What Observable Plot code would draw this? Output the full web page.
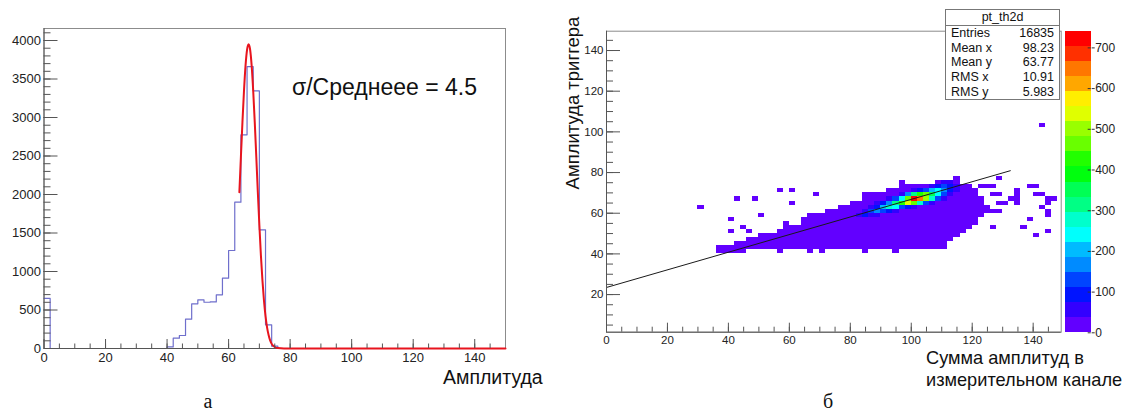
<!DOCTYPE html>
<html><head><meta charset="utf-8">
<script src="https://cdn.jsdelivr.net/npm/d3@7"></script>
<script src="https://cdn.jsdelivr.net/npm/@observablehq/plot@0.6"></script>
<style>
body{margin:0;background:#fff;}
#root{position:relative;width:1126px;height:414px;overflow:hidden;font-family:"Liberation Sans",Arial,sans-serif;color:#111;background:#fff;}
.abs{position:absolute;white-space:nowrap;line-height:1;}
.row{display:flex;justify-content:space-between;height:14.7px;line-height:14.7px;padding:0 5px 0 5px;}
</style></head><body>
<div id="root">
  <div id="left" class="abs" style="left:0;top:0"></div>
  <div id="right" class="abs" style="left:560px;top:0"></div>
  <div id="cbar" class="abs" style="left:1060px;top:0"></div>
  <div class="abs" style="left:292px;top:87px;font-size:23px;transform:translateY(-50%)">σ/Среднеее = 4.5</div>
  <div class="abs" style="left:443px;top:378px;font-size:19.5px;transform:translateY(-50%)">Амплитуда</div>
  <div class="abs" style="left:573px;top:103px;font-size:18.5px;transform:translate(-50%,-50%) rotate(-90deg)">Амплитуда триггера</div>
  <div class="abs" style="left:926px;top:358px;font-size:18.2px;transform:translateY(-50%)">Сумма амплитуд в</div>
  <div class="abs" style="left:926px;top:380px;font-size:18.2px;transform:translateY(-50%)">измерительном канале</div>
  <div class="abs" style="left:208px;top:401px;font-size:20px;font-family:'Liberation Serif','Times New Roman',serif;transform:translate(-50%,-50%)">а</div>
  <div class="abs" style="left:828px;top:401px;font-size:20px;font-family:'Liberation Serif','Times New Roman',serif;transform:translate(-50%,-50%)">б</div>
  <div id="stats" class="abs" style="left:945px;top:9px;width:113px;height:89px;border:1px solid #777;background:#fff;font-size:12.5px;"></div>
</div>
<script>
// ---------- Panel "а": amplitude histogram (bin width 2, range 0..150) ----------
const histBinWidth = 2;
const histCounts = [650,0,0,0,0,0,0,0,0,0, 0,0,0,0,0,0,0,0,0,0,
  20,134,169,381,580,632,601,605,697,913, 1273,1900,2775,3662,3346,1541,308,30,0,0,
  0,0,0,0,0,0,0,0,0,0, 0,0,0,0,0,0,0,0,0,0,
  0,0,0,0,0,0,0,0,0,0, 0,0,0,0,0];
const fitX = [63.5,64,64.5,65,65.5,66,66.5,67,67.5,68,68.5,69,69.5,70,70.5,71,71.5,72,72.5,73,73.5,74,75,76,78,150];
const fitY = [2030,2490,2940,3345,3670,3880,3950,3880,3670,3345,2940,2490,2030,1600,1210,885,620,420,275,175,105,60,20,5,0,0];
const xTicksA = [0,20,40,60,80,100,120,140];
const yTicksA = [0,500,1000,1500,2000,2500,3000,3500,4000];
const xDomainA = [0,150];
const yDomainA = [0,4156];

// ---------- Panel "б": 2D histogram pt_th2d (bins 2x2) ----------
const binB = 2;
const bodyX    = [36,38,40,42,44,46,48,50,52,54,56,58,60,62,64,66,68,70,72,74,76,78,80,82,84,86,88,90,92,94,96,98,100,102,104,106,108,110,112,114,116,118,120,122];
const bodyLow  = [40,40,40,40,40,42,42,42,42,42,40,42,42,42,42,40,42,40,42,42,42,42,42,42,40,42,42,42,42,40,42,42,42,42,42,42,42,42,46,48,50,52,54,58];
const bodyHigh = [44,44,44,46,46,48,48,50,50,50,52,56,54,54,58,60,60,60,62,62,64,64,66,66,70,70,70,70,72,72,76,74,74,74,74,74,76,76,76,78,74,74,72,68];
// dense core: one row per y bin, first x bin, then colour levels (0..19) of consecutive x bins
const coreRowY  = [58, 60, 62, 64, 66, 68, 70, 72, 74];
const coreRowX0 = [82, 84, 86, 88, 92, 96, 100, 106, 110];
const coreRowLevels = [
  [1,2,1,1],
  [1,3,4,3,2,1],
  [1,2,5,7,6,3,2,1],
  [1,2,4,8,11,14,12,7,3,1],
  [1,3,6,12,19,17,13,7,3,1],
  [1,4,8,11,12,9,6,3,1],
  [1,2,3,5,6,4,2,1],
  [1,2,3,2,1],
  [1,1]
];
const strayX = [30,40,40,42,44,46,48,50,56,60,60,68,128,142,122,124,126,126,128,128,130,134,134,134,134,138,140,140,142,144,146,142,144,144,144,138,136,140,144,126,124,126,128,132,124];
const strayY = [62,50,56,66,52,50,66,58,70,70,64,68,76,102,72,72,72,68,68,64,64,64,66,68,70,72,72,68,68,66,66,62,64,58,60,56,52,48,50,52,60,60,60,66,62];
const fitLineX = [0,132.5];
const fitLineY = [23.5,80.9];
const xTicksB = [0,20,40,60,80,100,120,140];
const yTicksB = [20,40,60,80,100,120,140];
const xDomainB = [0,149.2];
const yDomainB = [1.5,149.5];
const palette = ["#6200ff","#3300ff","#0014ff","#0044ff","#008bff","#00bbff","#00fffc","#00ffcc","#00ff85","#00ff55","#00ff0e","#22ff00","#69ff00","#99ff00","#e0ff00","#ffee00","#ffa700","#ff7700","#ff3000","#ff0000"];
const cbMax = 741;
const cbTicks = [0,100,200,300,400,500,600,700];
const statsTitle = "pt_th2d";
const statsLabels = ["Entries","Mean x","Mean y","RMS x","RMS y"];
const statsValues = ["16835","98.23","63.77","10.91","5.983"];

const font = "'Liberation Sans', Arial, sans-serif";
const axisCol = "#555";
const plain = d => String(d);

// ---- left plot
{
  const W = 560, H = 414, mt = 28, mr = 55, mb = 66, ml = 43.5;
  const pw = W - ml - mr, ph = H - mt - mb;
  const edges = d3.range(histCounts.length).map(i => i * histBinWidth);
  const histPts = edges.map((x, i) => ({x, y: histCounts[i]}));
  histPts.push({x: xDomainA[1], y: histCounts[histCounts.length - 1]});
  const fitPts = fitX.map((x, i) => ({x, y: fitY[i]}));
  const svg = Plot.plot({
    width: W, height: H, marginTop: mt, marginRight: mr, marginBottom: mb, marginLeft: ml,
    x: {domain: xDomainA}, y: {domain: yDomainA},
    style: {fontFamily: font, fontSize: "13px", color: "#222", background: "transparent", overflow: "visible"},
    marks: [
      Plot.frame({stroke: "#8c8c8c"}),
      Plot.line(histPts, {x: "x", y: "y", curve: "step-after", stroke: "#6f6fcc", strokeWidth: 1.2}),
      Plot.ruleX([xDomainA[0]], {stroke: axisCol}),
      Plot.ruleY([yDomainA[0]], {stroke: axisCol}),
      Plot.line(fitPts, {x: "x", y: "y", curve: "monotone-x", stroke: "#e8141e", strokeWidth: 2}),
      Plot.tickY(d3.range(100, 4101, 100), {stroke: axisCol, insetRight: pw - 7}),
      Plot.tickY(yTicksA, {stroke: axisCol, insetRight: pw - 14}),
      Plot.tickX(d3.range(5, 150, 5), {stroke: axisCol, insetTop: ph - 4.5}),
      Plot.tickX(xTicksA, {stroke: axisCol, insetTop: ph - 9}),
      Plot.axisY(yTicksA, {tickSize: 0, tickPadding: 3, label: null, fontSize: 13, tickFormat: plain}),
      Plot.axisX(xTicksA, {tickSize: 0, tickPadding: 4, label: null, fontSize: 13, tickFormat: plain})
    ]
  });
  document.getElementById("left").appendChild(svg);
}

// ---- right plot
{
  const W = 505, H = 414, mt = 30.7, mr = 4.3, mb = 82.3, ml = 46;
  const pw = W - ml - mr, ph = H - mt - mb;
  const cell = {shapeRendering: "crispEdges"};
  const linePts = fitLineX.map((x, i) => ({x, y: fitLineY[i]}));
  const core = [];
  coreRowY.forEach((y, r) => coreRowLevels[r].forEach((lev, k) => core.push({x: coreRowX0[r] + k * binB, y, lev})));
  const svg = Plot.plot({
    width: W, height: H, marginTop: mt, marginRight: mr, marginBottom: mb, marginLeft: ml,
    x: {domain: xDomainB}, y: {domain: yDomainB},
    style: {fontFamily: font, fontSize: "11.5px", color: "#222", background: "transparent", overflow: "visible"},
    marks: [
      Plot.frame({stroke: "#8c8c8c"}),
      Plot.rect(bodyX, {x1: d => d, x2: d => d + binB, y1: (d, i) => bodyLow[i], y2: (d, i) => bodyHigh[i], fill: palette[0], ...cell}),
      Plot.rect(strayX, {x1: d => d, x2: d => d + binB, y1: (d, i) => strayY[i], y2: (d, i) => strayY[i] + binB, fill: palette[0], ...cell}),
      Plot.rect(core, {x1: "x", x2: d => d.x + binB, y1: "y", y2: d => d.y + binB, fill: d => palette[d.lev], ...cell}),
      Plot.line(linePts, {x: "x", y: "y", stroke: "#1a1a1a", strokeWidth: 1}),
      Plot.ruleX([xDomainB[0]], {stroke: axisCol}),
      Plot.ruleY([yDomainB[0]], {stroke: axisCol}),
      Plot.tickY(d3.range(5, 150, 5), {stroke: axisCol, insetRight: pw - 7}),
      Plot.tickY(yTicksB, {stroke: axisCol, insetRight: pw - 14}),
      Plot.tickX(d3.range(5, 149, 5), {stroke: axisCol, insetTop: ph - 5}),
      Plot.tickX(xTicksB, {stroke: axisCol, insetTop: ph - 9}),
      Plot.axisY(yTicksB, {tickSize: 0, tickPadding: 3, label: null, fontSize: 11.5, tickFormat: plain}),
      Plot.axisX(xTicksB, {tickSize: 0, tickPadding: 4, label: null, fontSize: 11.5, tickFormat: plain})
    ]
  });
  document.getElementById("right").appendChild(svg);
}

// ---- colour bar
{
  const W = 66, H = 414, mt = 30.7, mb = 81.7, ml = 5, mr = 35.3;
  const bw = W - ml - mr;
  const bands = d3.range(palette.length);
  const step = cbMax / palette.length;
  const svg = Plot.plot({
    width: W, height: H, marginTop: mt, marginRight: mr, marginBottom: mb, marginLeft: ml,
    x: {domain: [0, 1], axis: null}, y: {domain: [0, cbMax]},
    style: {fontFamily: font, fontSize: "12px", color: "#222", background: "transparent", overflow: "visible"},
    marks: [
      Plot.rect(bands, {x1: 0, x2: 1, y1: k => k * step, y2: k => (k + 1) * step, fill: k => palette[k], shapeRendering: "crispEdges"}),
      Plot.tickY(cbTicks, {stroke: "#333", insetLeft: bw - 3}),
      Plot.axisY(cbTicks, {anchor: "right", tickSize: 3, tickPadding: 1, label: null, fontSize: 12, stroke: "#333", tickFormat: plain})
    ]
  });
  document.getElementById("cbar").appendChild(svg);
}

// ---- stats box
{
  const box = document.getElementById("stats");
  const head = document.createElement("div");
  head.style.cssText = "height:15px;line-height:15px;text-align:center;border-bottom:1px solid #777;";
  head.textContent = statsTitle;
  box.appendChild(head);
  statsLabels.forEach((lab, i) => {
    const r = document.createElement("div");
    r.className = "row";
    const a = document.createElement("span"); a.textContent = lab;
    const b = document.createElement("span"); b.textContent = statsValues[i];
    r.appendChild(a); r.appendChild(b);
    box.appendChild(r);
  });
}
</script>
</body></html>
